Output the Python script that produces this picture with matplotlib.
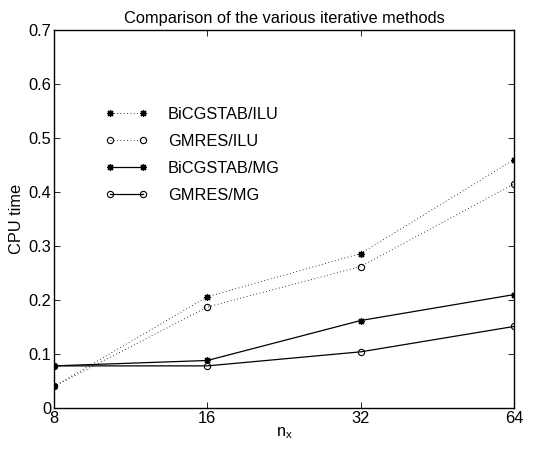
import matplotlib
matplotlib.use("Agg")
import matplotlib.pyplot as plt

plt.rcParams['font.family'] = ['Liberation Sans', 'DejaVu Sans']

nx = [8, 16, 32, 64]
bicg_ilu = [0.040, 0.206, 0.286, 0.460]
gmres_ilu = [0.040, 0.187, 0.262, 0.415]
bicg_mg = [0.078, 0.088, 0.162, 0.210]
gmres_mg = [0.078, 0.078, 0.104, 0.151]
labels = ['BiCGSTAB/ILU', 'GMRES/ILU', 'BiCGSTAB/MG', 'GMRES/MG']

FS = 11.8
fig = plt.figure(figsize=(5.41, 4.51), dpi=100)
ax = fig.add_axes([54/541, 43/451, 460/541, 378/451])

dot = (0, (1, 3))
star = (8, 2, 0)
ax.plot(nx, bicg_ilu, color='black', linestyle=dot, linewidth=0.6, marker=star, markersize=5, markeredgewidth=0.9, label=labels[0])
ax.plot(nx, gmres_ilu, color='black', linestyle=dot, linewidth=0.6, marker='o', markersize=4.5, markerfacecolor='none', markeredgewidth=0.8, label=labels[1])
ax.plot(nx, bicg_mg, color='black', linestyle='-', linewidth=0.9, marker=star, markersize=5, markeredgewidth=0.9, label=labels[2])
ax.plot(nx, gmres_mg, color='black', linestyle='-', linewidth=0.9, marker='o', markersize=4.5, markerfacecolor='none', markeredgewidth=0.8, label=labels[3])

ax.set_xscale('log', base=2)
ax.set_xlim(8, 64)
ax.set_ylim(0, 0.7)
ax.set_xticks(nx)
ax.set_xticklabels([str(v) for v in nx])
ax.minorticks_off()
ax.set_yticks([0, 0.1, 0.2, 0.3, 0.4, 0.5, 0.6, 0.7])
ax.set_yticklabels(['0', '0.1', '0.2', '0.3', '0.4', '0.5', '0.6', '0.7'])
ax.tick_params(direction='in', top=True, right=True, labelsize=FS, length=4, width=0.6, pad=2)
for s in ax.spines.values():
    s.set_linewidth(1.0)

ax.set_title('Comparison of the various iterative methods', fontsize=FS, pad=5)
ax.set_xlabel('n$_\\mathregular{x}$', fontsize=FS, labelpad=0)
ax.set_ylabel('CPU time', fontsize=FS, labelpad=3)

leg = ax.legend(loc='upper left', bbox_to_anchor=(0.08, 0.835), frameon=False, numpoints=2,
                handlelength=2.6, handletextpad=1.2, labelspacing=0.72, fontsize=FS)

fig.savefig('out.png', dpi=100)
